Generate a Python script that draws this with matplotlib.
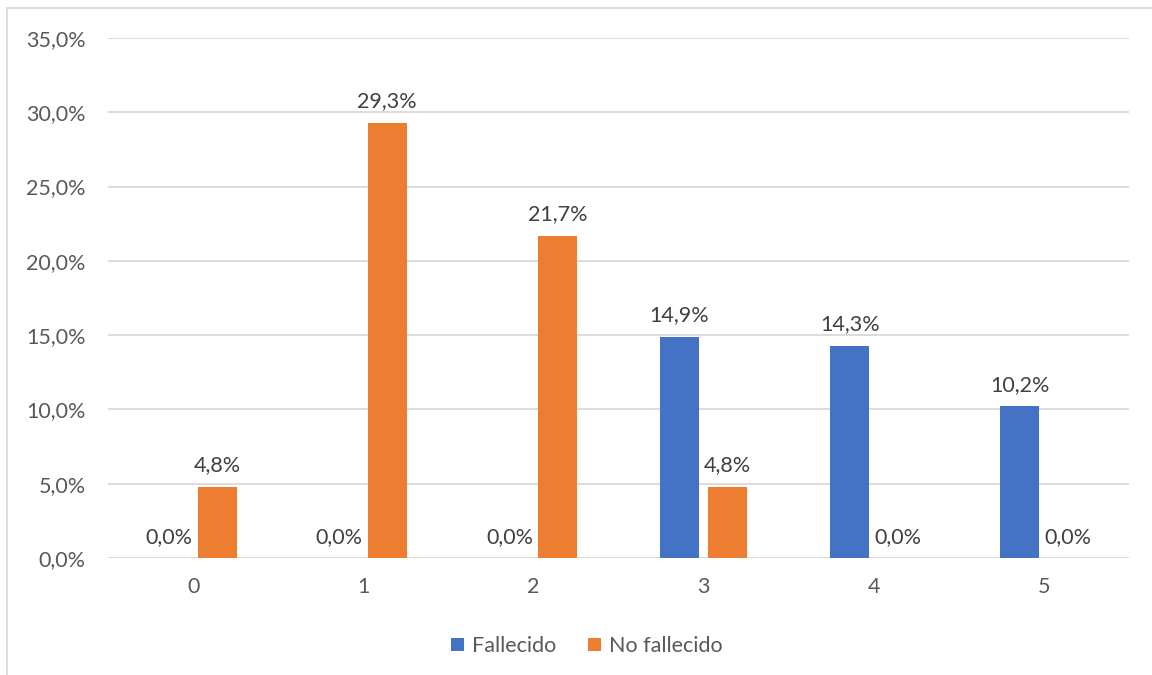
import matplotlib
matplotlib.use("Agg")
import matplotlib.pyplot as plt
from matplotlib.patches import Rectangle
import numpy as np

categories = ["0", "1", "2", "3", "4", "5"]
fallecido = [0.0, 0.0, 0.0, 14.9, 14.3, 10.2]
no_fallecido = [4.8, 29.3, 21.7, 4.8, 0.0, 0.0]
series_names = ["Fallecido", "No fallecido"]
y_ticks = [0, 5, 10, 15, 20, 25, 30, 35]

BLUE = "#4472C4"
ORANGE = "#ED7D31"
TEXT = "#595959"
LABEL = "#404040"
GRID = "#D9D9D9"
FS = 15.5

plt.rcParams["font.family"] = ["Lato", "DejaVu Sans"]

fig = plt.figure(figsize=(11.52, 6.75), dpi=100)
W, H = 1152, 675
# plot area in pixel coordinates
left, right, top, bottom = 108, 1129, 38, 558
ax = fig.add_axes([left / W, 1 - bottom / H, (right - left) / W, (bottom - top) / H])

# outer chart border
fig.patches.append(Rectangle((7 / W, -0.1), 1.2, 1 - 8 / H + 0.1, transform=fig.transFigure,
                             fill=False, edgecolor=GRID, linewidth=1.3))

x = np.arange(len(categories))
bw = 0.23
off = 0.141
b1 = ax.bar(x - off, fallecido, bw, color=BLUE, label=series_names[0], zorder=3)
b2 = ax.bar(x + off, no_fallecido, bw, color=ORANGE, label=series_names[1], zorder=3)

def fmt(v):
    return f"{v:.1f}".replace(".", ",") + "%"

for bars, vals in ((b1, fallecido), (b2, no_fallecido)):
    for rect, v in zip(bars, vals):
        ax.annotate(fmt(v), (rect.get_x() + rect.get_width() / 2, v),
                    xytext=(0, 8), textcoords="offset points",
                    ha="center", va="bottom", fontsize=FS, color=LABEL)

ax.set_xlim(-0.5, len(categories) - 0.5)
ax.set_ylim(0, 35)
ax.set_yticks(y_ticks)
ax.set_yticklabels([fmt(t) for t in y_ticks])
ax.set_xticks(x)
ax.set_xticklabels(categories)
ax.tick_params(axis="both", length=0, labelsize=FS, labelcolor=TEXT)
ax.tick_params(axis="y", pad=16)
ax.tick_params(axis="x", pad=14)
ax.grid(axis="y", color=GRID, linewidth=1.3, zorder=0)
for s in ax.spines.values():
    s.set_visible(False)
ax.axhline(0, color=GRID, linewidth=1.3, zorder=2)

ax.legend(loc="center", bbox_to_anchor=(587 / W, 1 - 646 / H), bbox_transform=fig.transFigure,
          ncol=2, frameon=False, fontsize=FS, labelcolor=TEXT,
          handlelength=0.6, handleheight=0.6, handletextpad=0.35, columnspacing=1.5)

fig.savefig("out.png", dpi=100)
